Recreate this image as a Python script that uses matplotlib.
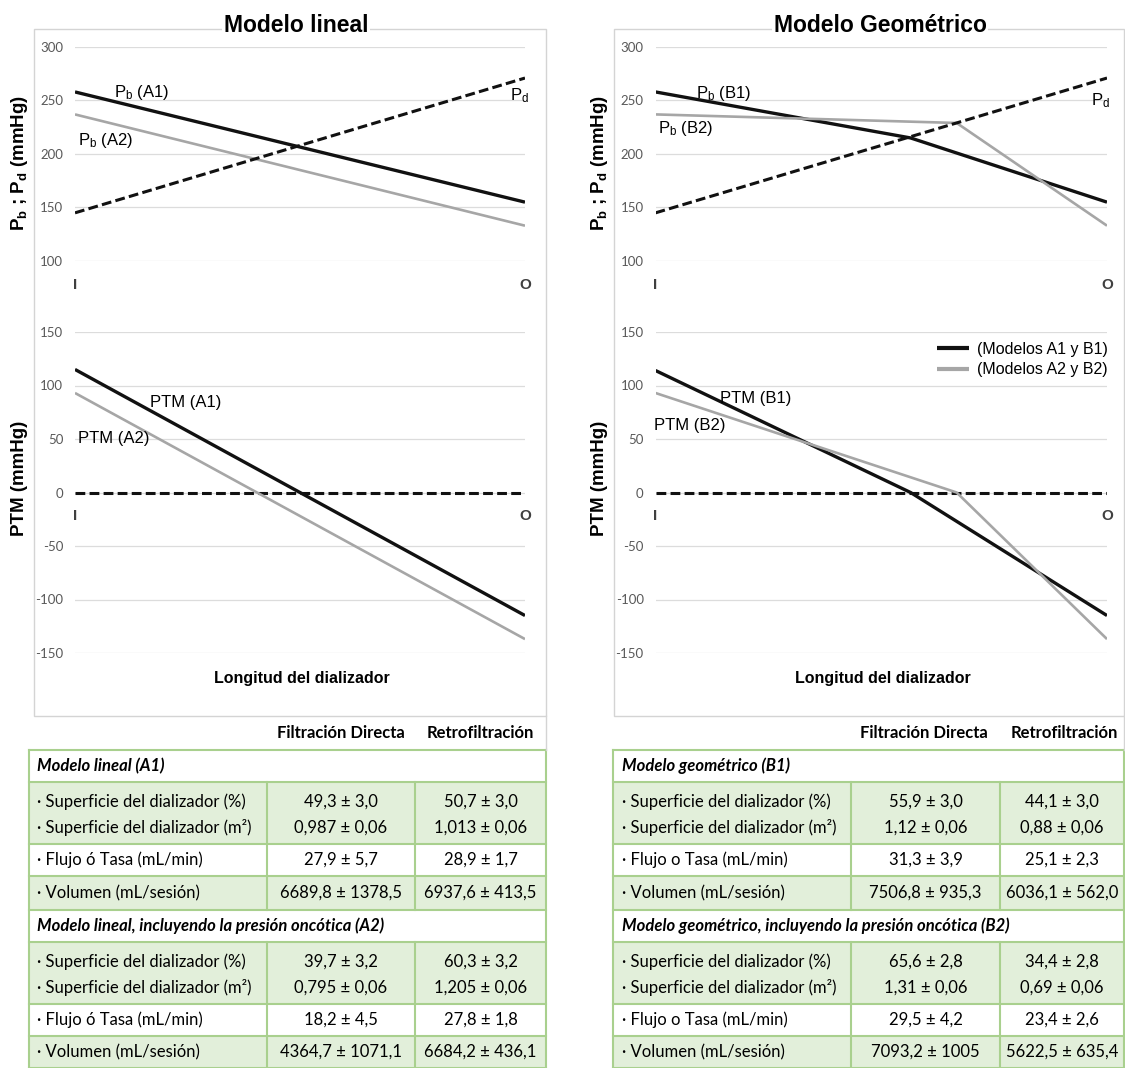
import matplotlib
matplotlib.use('Agg')
import matplotlib.pyplot as plt
from matplotlib.patches import Rectangle

W, H, DPI = 1125, 1068, 100

plt.rcParams['font.family'] = ['Liberation Sans', 'DejaVu Sans']
plt.rcParams['mathtext.default'] = 'regular'
plt.rcParams['axes.unicode_minus'] = False

# ------------------------------------------------------------------ data
x_labels = ['I', 'O']
x_ends = [0.0, 1.0]

# Modelo lineal
pb_A1 = [258, 155]
pb_A2 = [237, 133]
pd_A = [145, 271]
ptm_A1 = [115, -115]
ptm_A2 = [93, -137]
zero_line = [0, 0]

# Modelo geometrico
pos_B1 = [0.0, 0.565, 1.0]
pb_B1 = [258, 215, 155]
ptm_B1 = [114, 0, -115]
pos_B2 = [0.0, 0.667, 1.0]
pb_B2 = [237, 229, 133]
ptm_B2 = [93, 0, -137]
pd_B = [145, 271]

top_ticks = [100, 150, 200, 250, 300]
bottom_ticks = [-150, -100, -50, 0, 50, 100, 150]

titles = ['Modelo lineal', 'Modelo Geométrico']
ylabel_top = r'P$_b$ ; P$_d$ (mmHg)'
ylabel_bottom = 'PTM (mmHg)'
xlabel = 'Longitud del dializador'
legend_labels = ['(Modelos A1 y B1)', '(Modelos A2 y B2)']

table_header = ['Filtración Directa', 'Retrofiltración']
sections_A = ['Modelo lineal (A1)', 'Modelo lineal, incluyendo la presión oncótica (A2)']
sections_B = ['Modelo geométrico (B1)', 'Modelo geométrico, incluyendo la presión oncótica (B2)']
row_pct = '· Superficie del dializador (%)'
row_m2 = '· Superficie del dializador (m²)'
row_flow_A = '· Flujo ó Tasa (mL/min)'
row_flow_B = '· Flujo o Tasa (mL/min)'
row_vol = '· Volumen (mL/sesión)'

# [directa, retro] per group: pct, m2, flujo, volumen
A1_pct = ['49,3 ± 3,0', '50,7 ± 3,0']
A1_m2 = ['0,987 ± 0,06', '1,013 ± 0,06']
A1_flow = ['27,9 ± 5,7', '28,9 ± 1,7']
A1_vol = ['6689,8 ± 1378,5', '6937,6 ± 413,5']
A2_pct = ['39,7 ± 3,2', '60,3 ± 3,2']
A2_m2 = ['0,795 ± 0,06', '1,205 ± 0,06']
A2_flow = ['18,2 ± 4,5', '27,8 ± 1,8']
A2_vol = ['4364,7 ± 1071,1', '6684,2 ± 436,1']
B1_pct = ['55,9 ± 3,0', '44,1 ± 3,0']
B1_m2 = ['1,12 ± 0,06', '0,88 ± 0,06']
B1_flow = ['31,3 ± 3,9', '25,1 ± 2,3']
B1_vol = ['7506,8 ± 935,3', '6036,1 ± 562,0']
B2_pct = ['65,6 ± 2,8', '34,4 ± 2,8']
B2_m2 = ['1,31 ± 0,06', '0,69 ± 0,06']
B2_flow = ['29,5 ± 4,2', '23,4 ± 2,6']
B2_vol = ['7093,2 ± 1005', '5622,5 ± 635,4']

# ------------------------------------------------------------------ style
BLACK = '#111111'
GRAY = '#A6A6A6'
GRID = '#DCDCDC'
BORDER = '#D4D4D4'
TICK = '#595959'
GREEN_FILL = '#E2EFDA'
GREEN_LINE = '#A9D08E'
LW_B, LW_G, LW_D = 2.4, 1.9, 2.2
DASH = (3.2, 1.4)

fig = plt.figure(figsize=(W / DPI, H / DPI), dpi=DPI)

# background overlay in pixel coordinates
bg = fig.add_axes([0, 0, 1, 1], zorder=-5)
bg.set_xlim(0, W)
bg.set_ylim(H, 0)
bg.axis('off')


def px_axes(x0, x1, y0, y1):
    return fig.add_axes([x0 / W, 1 - y1 / H, (x1 - x0) / W, (y1 - y0) / H])


def style_axes(ax, ticks, zero_spine=False):
    ax.set_xlim(0, 1)
    ax.set_ylim(ticks[0], ticks[-1])
    ax.set_yticks(ticks)
    ax.set_xticks(x_ends)
    ax.set_xticklabels(x_labels)
    for s in ax.spines.values():
        s.set_visible(False)
    if zero_spine:
        ax.spines['bottom'].set_position(('data', 0))
    ax.grid(axis='y', color=GRID, lw=0.9)
    ax.set_axisbelow(True)
    ax.tick_params(axis='y', length=0, pad=8.5, labelsize=9.5, labelcolor=TICK,
                   labelfontfamily='Lato')
    ax.tick_params(axis='x', length=0, pad=12, labelsize=11, labelcolor='#404040')
    for t in ax.get_xticklabels():
        t.set_fontweight('bold')
    ax.patch.set_alpha(0)


panels = [(75, 525, 34, 546, 296), (655.5, 1107, 614, 1124, 880)]
axes = []
for (ax0, ax1, b0, b1, tc), title in zip(panels, titles):
    bg.add_patch(Rectangle((b0, 29), b1 - b0, 716 - 29, fill=False, ec=BORDER, lw=1))
    at = px_axes(ax0, ax1, 47, 261)
    ab = px_axes(ax0, ax1, 332, 653)
    style_axes(at, top_ticks)
    style_axes(ab, bottom_ticks, zero_spine=True)
    fig.text(tc / W, 1 - 26 / H, title, ha='center', va='center', fontsize=16.5,
             fontweight='bold', bbox=dict(fc='white', ec='none', pad=1))
    ylx = (b0 - 14) / W
    fig.text(ylx, 1 - 163 / H, ylabel_top, rotation=90, ha='center', va='center',
             fontsize=13.5, fontweight='bold')
    fig.text(ylx, 1 - 478 / H, ylabel_bottom, rotation=90, ha='center', va='center',
             fontsize=13.5, fontweight='bold')
    fig.text(((ax0 + ax1) / 2 + 2) / W, 1 - 679 / H, xlabel, ha='center', va='center',
             fontsize=11.5, fontweight='bold')
    axes.append((at, ab))

(atA, abA), (atB, abB) = axes

# Modelo lineal
atA.plot(x_ends, pb_A1, color=BLACK, lw=LW_B, solid_capstyle='butt')
atA.plot(x_ends, pb_A2, color=GRAY, lw=LW_G, solid_capstyle='butt')
atA.plot(x_ends, pd_A, color=BLACK, lw=LW_D, dashes=DASH)
abA.plot(x_ends, zero_line, color=BLACK, lw=LW_D, dashes=DASH)
abA.plot(x_ends, ptm_A1, color=BLACK, lw=LW_B, solid_capstyle='butt')
abA.plot(x_ends, ptm_A2, color=GRAY, lw=LW_G, solid_capstyle='butt')

# Modelo geometrico
atB.plot(pos_B1, pb_B1, color=BLACK, lw=LW_B, solid_capstyle='butt')
atB.plot(pos_B2, pb_B2, color=GRAY, lw=LW_G, solid_capstyle='butt')
atB.plot(x_ends, pd_B, color=BLACK, lw=LW_D, dashes=DASH)
abB.plot(x_ends, zero_line, color=BLACK, lw=LW_D, dashes=DASH)
l1, = abB.plot(pos_B1, ptm_B1, color=BLACK, lw=LW_B, solid_capstyle='butt')
l2, = abB.plot(pos_B2, ptm_B2, color=GRAY, lw=LW_G, solid_capstyle='butt')

ann = dict(fontsize=12, ha='left', va='baseline')
atA.text(0.087, 253.5, r'P$_b$ (A1)', **ann)
atA.text(0.007, 208.5, r'P$_b$ (A2)', **ann)
atA.text(0.967, 250.5, r'P$_d$', **ann)
abA.text(0.167, 80, 'PTM (A1)', **ann)
abA.text(0.007, 46, 'PTM (A2)', **ann)
atB.text(0.090, 252.3, r'P$_b$ (B1)', **ann)
atB.text(0.006, 219.6, r'P$_b$ (B2)', **ann)
atB.text(0.964, 245.8, r'P$_d$', **ann)
abB.text(0.143, 83.6, 'PTM (B1)', **ann)
abB.text(-0.003, 58.4, 'PTM (B2)', **ann)

leg = fig.legend([l1, l2], legend_labels, loc='center right',
                 bbox_to_anchor=(1108 / W, 1 - 359.5 / H), frameon=False, fontsize=11.5,
                 handlelength=2.0, handletextpad=0.5, labelspacing=0.35,
                 borderpad=0, borderaxespad=0)
for h in leg.legend_handles:
    h.set_linewidth(3)

# ------------------------------------------------------------------ tables
ROWS = [716, 750, 782, 844, 876, 910, 942, 1004, 1036, 1068]
TF = dict(fontsize=12, family=['Lato', 'DejaVu Sans'])


def draw_table(x0, c1, c2, x1, hdr_centers, sections, flow_label, g1, g2, label_x):
    for xc, txt in zip(hdr_centers, table_header):
        bg.text(xc, (ROWS[0] + ROWS[1]) / 2, txt, ha='center', va='center',
                fontweight='bold', **TF)
    groups = [(ROWS[1], ROWS[2], ROWS[3], ROWS[4], ROWS[5], sections[0], g1),
              (ROWS[5], ROWS[6], ROWS[7], ROWS[8], ROWS[9], sections[1], g2)]
    for s0, r1, r2, r3, r4, sec, vals in groups:
        pct, m2, flow, vol = vals
        bg.add_patch(Rectangle((x0, r1), x1 - x0, r2 - r1, fc=GREEN_FILL, ec='none'))
        bg.add_patch(Rectangle((x0, r3), x1 - x0, r4 - r3, fc=GREEN_FILL, ec='none'))
        bg.text(label_x, (s0 + r1) / 2, sec, ha='left', va='center',
                fontweight='bold', style='italic', **TF)
        rows_txt = [(r1 + 20, row_pct, pct), (r1 + 46, row_m2, m2),
                    ((r2 + r3) / 2, flow_label, flow), ((r3 + r4) / 2, row_vol, vol)]
        for yy, lab, v in rows_txt:
            bg.text(label_x, yy, lab, ha='left', va='center', **TF)
            bg.text((c1 + c2) / 2, yy, v[0], ha='center', va='center', **TF)
            bg.text((c2 + x1) / 2, yy, v[1], ha='center', va='center', **TF)
        for xx in (c1, c2):
            bg.plot([xx, xx], [r1, r4], color=GREEN_LINE, lw=1.5)
    for yy in ROWS[1:]:
        bg.plot([x0, x1], [yy, yy], color=GREEN_LINE, lw=1.5)
    for xx in (x0, x1):
        bg.plot([xx, xx], [ROWS[1], ROWS[-1]], color=GREEN_LINE, lw=1.5)
    bg.plot([x1, x1], [ROWS[0], ROWS[1]], color=BORDER, lw=1)


draw_table(29, 267, 415, 546, [341, 480], sections_A, row_flow_A,
           (A1_pct, A1_m2, A1_flow, A1_vol), (A2_pct, A2_m2, A2_flow, A2_vol), 37)
draw_table(613, 851, 1000, 1124, [924, 1064], sections_B, row_flow_B,
           (B1_pct, B1_m2, B1_flow, B1_vol), (B2_pct, B2_m2, B2_flow, B2_vol), 622)

fig.savefig('out.png', dpi=DPI)
